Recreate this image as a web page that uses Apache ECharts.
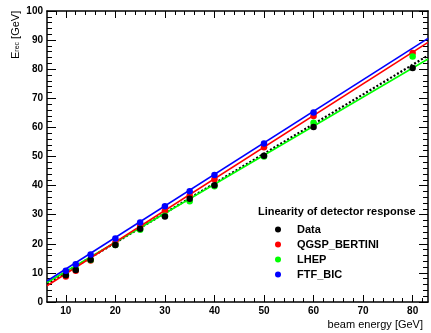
<!DOCTYPE html>
<html>
<head>
<meta charset="utf-8">
<script src="https://cdn.jsdelivr.net/npm/echarts@6/dist/echarts.min.js"></script>
<style>
  html, body { margin: 0; padding: 0; background: #fff; }
  #chart { width: 431px; height: 333px; }
</style>
</head>
<body>
<div id="chart"></div>
<script>
// Beam energies (GeV) and reconstructed energies (GeV)
const beamEnergy = [10, 12, 15, 20, 25, 30, 35, 40, 50, 60, 80];
const dataErec   = [9.2, 11.0, 14.5, 19.6, 25.2, 29.4, 35.5, 40.1, 50.3, 60.1, 80.4];
const qgspErec   = [8.8, 10.7, 14.3, 20.4, 26.1, 31.4, 36.5, 42.2, 53.2, 63.9, 85.6];
const lhepErec   = [9.4, 11.3, 14.4, 19.6, 24.8, 29.6, 34.6, 39.8, 50.0, 61.6, 84.4];
const ftfEnergy  = [10, 12, 15, 20, 25, 30, 35, 40, 50, 60];
const ftfErec    = [10.7, 13.0, 16.3, 21.8, 27.3, 32.9, 38.1, 43.6, 54.5, 65.1];

// Linear fit endpoints across the plotted energy range
const fitRange = [6.2, 83.1];
const fitData  = [6.3, 84.7];
const fitQgsp  = [5.6, 89.2];
const fitLhep  = [6.7, 83.5];
const fitFtf   = [7.2, 90.6];

// Axis ticks
const xMajorTicks = [10, 20, 30, 40, 50, 60, 70, 80];
const xMinorTicks = [8, 12, 14, 16, 18, 22, 24, 26, 28, 32, 34, 36, 38, 42, 44, 46, 48,
                     52, 54, 56, 58, 62, 64, 66, 68, 72, 74, 76, 78, 82];

const legendNames = ['Data', 'QGSP_BERTINI', 'LHEP', 'FTF_BIC'];

const FONT = '"Liberation Sans", Arial, Helvetica, sans-serif';
const lineClr = '#000';

function pts(xs, ys) { return xs.map((x, i) => [x, ys[i]]); }

function xAxisDef(pos, major, labels) {
  return {
    type: 'value', position: pos, min: fitRange[0], max: fitRange[1],
    axisLine: { show: major, onZero: false, lineStyle: { color: lineClr, width: 1.5 } },
    axisTick: { show: true, inside: true, length: major ? 7 : 4,
                customValues: major ? xMajorTicks : xMinorTicks,
                lineStyle: { color: lineClr, width: 1 } },
    axisLabel: labels ? { show: true, customValues: xMajorTicks, margin: 4,
                          fontFamily: FONT, fontWeight: 'bold', fontSize: 10, color: '#000' }
                      : { show: false },
    splitLine: { show: false }
  };
}

function yAxisDef(pos, labels) {
  return {
    type: 'value', position: pos, min: 0, max: 100, interval: 10,
    axisLine: { show: true, onZero: false, lineStyle: { color: lineClr, width: 1.5 } },
    axisTick: { show: true, inside: true, length: 9, lineStyle: { color: lineClr, width: 1 } },
    minorTick: { show: true, splitNumber: 5, length: 5, lineStyle: { color: lineClr, width: 1 } },
    axisLabel: labels ? { show: true, margin: 4, fontFamily: FONT, fontWeight: 'bold',
                          fontSize: 10, color: '#000' } : { show: false },
    splitLine: { show: false }, minorSplitLine: { show: false }
  };
}

function fitLine(name, ys, color, dotted, z) {
  return {
    type: 'line', name: name, data: pts(fitRange, ys), showSymbol: false, symbol: 'none',
    silent: true, z: z, animation: false,
    lineStyle: { color: color, width: dotted ? 2.2 : 1.6, type: dotted ? [2, 2] : 'solid' }
  };
}

function markers(name, xs, ys, color, z) {
  return {
    type: 'scatter', name: name, data: pts(xs, ys), symbol: 'circle', symbolSize: 6.5,
    itemStyle: { color: color, opacity: 1 }, z: z, animation: false
  };
}

const chart = echarts.init(document.getElementById('chart'), null, { renderer: 'canvas' });
chart.setOption({
  animation: false,
  backgroundColor: '#fff',
  grid: { left: 47, right: 3, top: 11, bottom: 31, containLabel: false },
  xAxis: [
    xAxisDef('bottom', true, true),
    xAxisDef('bottom', false, false),
    xAxisDef('top', true, false),
    xAxisDef('top', false, false)
  ],
  yAxis: [yAxisDef('left', true), yAxisDef('right', false)],
  legend: {
    data: legendNames, orient: 'vertical', left: 270, top: 219,
    icon: 'circle', itemWidth: 6, itemHeight: 6, itemGap: 4,
    selectedMode: false,
    textStyle: { fontFamily: FONT, fontWeight: 'bold', fontSize: 11, color: '#000',
                 padding: [0, 0, 0, 11] }
  },
  graphic: [
    { type: 'text', left: 258, top: 206, silent: true,
      style: { text: 'Linearity of detector response', fontFamily: FONT,
               fontWeight: 'bold', fontSize: 11, fill: '#000' } },
    { type: 'text', right: 8, top: 319, silent: true,
      style: { text: 'beam energy [GeV]', fontFamily: FONT, fontSize: 11, fill: '#000' } },
    { type: 'text', x: 8, y: 59, rotation: Math.PI / 2, silent: true,
      style: {
        text: '{a|E}{s|rec}{a| [GeV]}',
        rich: {
          a: { fontFamily: FONT, fontSize: 11, fill: '#000', lineHeight: 13, verticalAlign: 'bottom' },
          s: { fontFamily: FONT, fontSize: 7, fill: '#000', lineHeight: 13, verticalAlign: 'bottom',
               padding: [4, 0, 0, 0] }
        }
      } }
  ],
  series: [
    fitLine('fitData', fitData, '#000', true, 2),
    fitLine('fitLhep', fitLhep, '#00ff00', false, 2),
    fitLine('fitQgsp', fitQgsp, '#ff0000', false, 2),
    fitLine('fitFtf', fitFtf, '#0000ff', false, 2),
    markers('QGSP_BERTINI', beamEnergy, qgspErec, '#ff0000', 3),
    markers('LHEP', beamEnergy, lhepErec, '#00ff00', 4),
    markers('Data', beamEnergy, dataErec, '#000000', 5),
    markers('FTF_BIC', ftfEnergy, ftfErec, '#0000ff', 6)
  ]
});
</script>
</body>
</html>
